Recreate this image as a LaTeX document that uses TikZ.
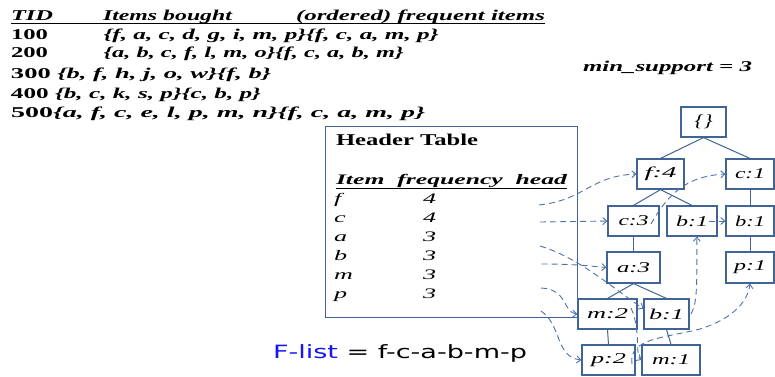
\documentclass[tikz,border=0pt]{standalone}
\usepackage{fontspec}
\setmainfont{Liberation Serif}
\newfontfamily\sansf{DejaVu Sans}
\usepackage{graphicx}
\usetikzlibrary{arrows.meta}
\definecolor{boxc}{RGB}{65,100,150}
\definecolor{linkc}{RGB}{80,112,168}
\definecolor{flblue}{RGB}{20,20,245}
\newcommand\fw[2]{\resizebox{#1pt}{\height}{#2}}
\newcommand\sx[1]{\scalebox{1.8}[1]{#1}}
\begin{document}
\begin{tikzpicture}[x=1pt,y=-1pt,
  txt/.style={anchor=base west,inner sep=0pt,outer sep=0pt},
  toptxt/.style={txt,font=\fontsize{15}{17}\selectfont\bfseries},
  hrow/.style={txt,font=\fontsize{14.5}{17}\selectfont\itshape},
  tnode/.style={draw=boxc,line width=1.2pt,minimum height=30pt,inner sep=0pt,font=\fontsize{15}{17}\selectfont\itshape},
  tree/.style={draw=boxc,line width=1pt},
  link/.style={draw=linkc,line width=0.9pt,dash pattern=on 6pt off 4pt,-{Straight Barb[length=4pt,width=7pt]}},
  rule/.style={draw=black,line width=1.5pt}
]
\useasboundingbox (0,0) rectangle (775,376);

% ---- transaction table ----
\node[toptxt] (tid) at (11,20) {\fw{42}{\itshape TID}};
\node[toptxt] (ib) at (103,20) {\fw{129}{\itshape Items bought}};
\node[toptxt] (ofi) at (296,20) {\fw{249}{\itshape (ordered) frequent items}};
\draw[rule] (11,23.5) -- (545,23.5);
\node[toptxt] (r1a) at (11,39) {\fw{37}{100}};
\node[toptxt] (r1b) at (103.6,39) {\fw{335}{\itshape \{f, a, c, d, g, i, m, p\}\{f, c, a, m, p\}}};
\node[toptxt] (r2a) at (11,57.5) {\fw{37}{200}};
\node[toptxt] (r2b) at (103.6,57.5) {\fw{300}{\itshape \{a, b, c, f, l, m, o\}\{f, c, a, b, m\}}};
\node[toptxt] (r3) at (11,78) {\fw{260}{300 \itshape\{b, f, h, j, o, w\}\{f, b\}}};
\node[toptxt] (r4) at (11,98) {\fw{250}{400 \itshape\{b, c, k, s, p\}\{c, b, p\}}};
\node[toptxt] (r5) at (11,117) {\fw{414}{500\itshape\{a, f, c, e, l, p, m, n\}\{f, c, a, m, p\}}};
\node[toptxt] (ms) at (583,71) {\fw{169}{\itshape min\_support = 3}};

% ---- header table ----
\node[draw=boxc,line width=1.2pt,minimum width=252pt,minimum height=191pt,anchor=north west,inner sep=0pt] (hdr) at (325,126) {};
\node[txt,font=\fontsize{16.5}{19}\selectfont\bfseries] (ht) at (336,145) {\fw{142}{Header Table}};
\node[txt,font=\fontsize{14.5}{17}\selectfont\bfseries\itshape] (hh) at (336,184.3) {\fw{231}{Item\ \ frequency\ \ head}};
\draw[rule] (336,188.3) -- (567,188.3);
\foreach \l/\n/\y in {f/4/203.5, c/4/222.5, a/3/241.5, b/3/260.5, m/3/279.5, p/3/298.5}{
  \node[hrow] (it\l) at (334,\y) {\sx{\l}};
  \node[hrow] (fr\l) at (423,\y) {\sx{\n}};
}

% ---- tree ----
\node[tnode,minimum width=45pt,font=\fontsize{17}{19}\selectfont\itshape] (root) at (703.5,122) {\fw{18}{\{\}}};
\node[tnode,minimum width=47pt] (f4) at (660.5,174) {\fw{32}{f:4}};
\node[tnode,minimum width=48pt] (c1) at (750,174) {\fw{30}{c:1}};
\node[tnode,minimum width=51pt] (c3) at (633.5,221) {\fw{30}{c:3}};
\node[tnode,minimum width=50pt] (b1a) at (692,221) {\fw{32}{b:1}};
\node[tnode,minimum width=48pt] (b1b) at (750,221) {\fw{30}{b:1}};
\node[tnode,minimum width=53pt,minimum height=31pt] (a3) at (633.5,267.5) {\fw{33}{a:3}};
\node[tnode,minimum width=48pt,minimum height=31pt] (p1) at (750,267.5) {\fw{32}{p:1}};
\node[tnode,minimum width=59pt] (m2) at (607.5,314) {\fw{41}{m:2}};
\node[tnode,minimum width=45pt] (b1c) at (666.5,314) {\fw{35}{b:1}};
\node[tnode,minimum width=53pt] (p2) at (608.5,360) {\fw{35}{p:2}};
\node[tnode,minimum width=58pt] (m1) at (671,360) {\fw{38}{m:1}};

\draw[tree] (root.south) -- (f4.north);
\draw[tree] (root.south) -- (c1.north);
\draw[tree] (f4.south) -- (c3.north);
\draw[tree] (f4.south) -- (b1a.north);
\draw[tree] (c1.south) -- (b1b.north);
\draw[tree] (c3.south) -- (a3.north);
\draw[tree] (b1b.south) -- (p1.north);
\draw[tree] (a3.south) -- (m2.north);
\draw[tree] (a3.south) -- (b1c.north);
\draw[tree] (m2.south) -- (p2.north);
\draw[tree] (b1c.south) -- (m1.north);

% ---- F-list ----
\node[txt] (fl) at (273,358.3) {\fw{254}{\sansf\fontsize{18.3}{22}\selectfont\textcolor{flblue}{F-list} = f-c-a-b-m-p}};

% ---- node links ----
\coordinate (hf) at (539,205);
\coordinate (hc) at (540,222);
\coordinate (ha) at (540,246);
\coordinate (hb) at (541.7,264);
\coordinate (hm) at (541,288);
\coordinate (hp) at (541,311);
\coordinate (c3l) at (651,224);
\coordinate (b1al) at (709,221);
\coordinate (b1cl) at (691,314);
\coordinate (m2l) at (631,308);
\coordinate (p2l) at (632,364);

\draw[link] (hf) .. controls (585,200) and (590,176) .. (f4.west);
\draw[link] (hc) -- (c3.west);
\draw[link] (ha) .. controls (580,258) and (615,290) .. (b1c.167);
\draw[link] (hb) .. controls (575,264) and (590,266) .. (a3.west);
\draw[link] (hm) .. controls (568,289) and (563,313) .. (m2.west);
\draw[link] (hp) .. controls (562,325) and (555,357) .. (p2.west);
\draw[link] (c3l) .. controls (670,190) and (690,176) .. (c1.west);
\draw[link] (b1al) -- (b1b.west);
\draw[link] (b1cl) .. controls (697,303) and (697,290) .. (b1a.-73);
\draw[link] (m2l) .. controls (641,330) and (635,356) .. (m1.west);
\draw[link] (p2l) .. controls (628,338) and (665,338) .. (700,329) .. controls (735,318) and (748,300) .. (p1.south);
\end{tikzpicture}
\end{document}
